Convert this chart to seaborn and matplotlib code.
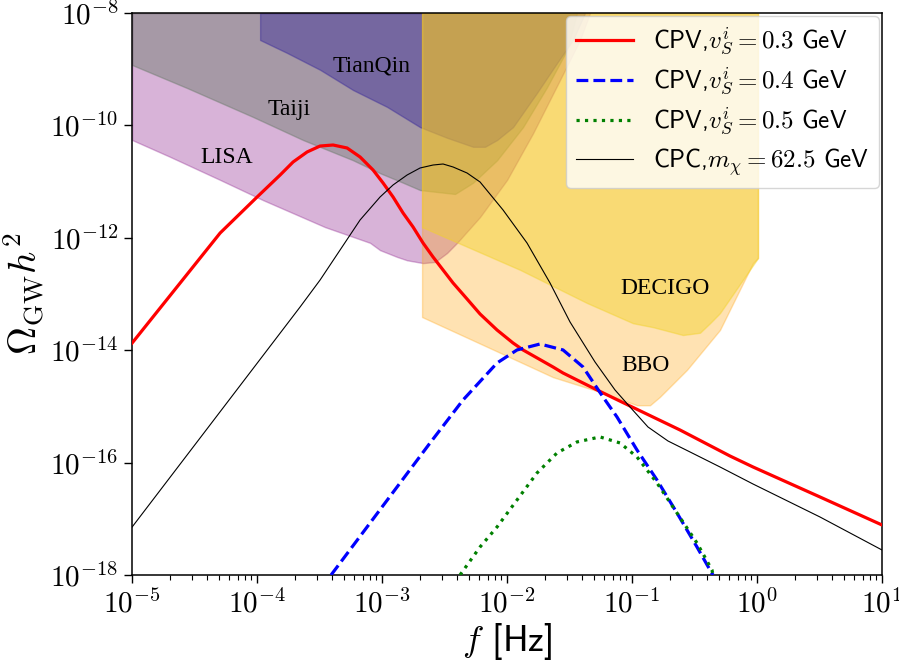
import numpy as np
import pandas as pd
import matplotlib
matplotlib.use("Agg")
import matplotlib.pyplot as plt
import seaborn as sns
from matplotlib.ticker import FixedLocator, FuncFormatter, LogLocator, NullLocator, NullFormatter

# ---------------------------------------------------------------------------
# Gravitational-wave spectra, given as log10(f / Hz) and log10(Omega_GW h^2)
# ---------------------------------------------------------------------------
cpv03_logf = [-5.0, -4.296, -4.0, -3.816, -3.712, -3.6, -3.496, -3.392, -3.28, -3.176,
              -3.072, -2.992, -2.912, -2.832, -2.752, -2.672, -2.592, -2.512, -2.432,
              -2.32, -2.216, -2.08, -1.952, -1.872, -1.632, -1.552, -1.28, -1.016,
              -0.616, -0.216, -0.032, 0.504, 1.0]
cpv03_logo = [-13.872, -11.915, -11.274, -10.883, -10.651, -10.473, -10.367, -10.349, -10.402,
              -10.562, -10.794, -11.025, -11.274, -11.559, -11.808, -12.093, -12.342, -12.573,
              -12.804, -13.089, -13.356, -13.641, -13.872, -13.996, -14.299, -14.406, -14.708,
              -14.993, -15.420, -15.883, -16.078, -16.612, -17.110]

cpv04_logf = [-3.408, -3.36, -2.616, -2.352, -2.08, -1.92, -1.736, -1.552, -1.392, -1.232,
              -1.12, -0.96, -0.8, -0.64, -0.48, -0.376, -0.352]
cpv04_logo = [-18.0, -17.858, -15.651, -14.886, -14.228, -13.996, -13.890, -13.996, -14.299,
              -14.833, -15.189, -15.776, -16.310, -16.897, -17.502, -17.911, -18.0]

cpv05_logf = [-2.376, -2.216, -2.08, -1.92, -1.76, -1.6, -1.44, -1.256, -1.096, -0.96,
              -0.8, -0.64, -0.48, -0.36, -0.352]
cpv05_logo = [-18.0, -17.502, -17.146, -16.665, -16.185, -15.829, -15.633, -15.544, -15.651,
              -15.900, -16.363, -16.897, -17.431, -17.911, -18.0]

cpc_logf = [-5.0, -3.656, -3.496, -3.336, -3.176, -3.016, -2.912, -2.8, -2.696, -2.592,
            -2.512, -2.432, -2.32, -2.216, -2.032, -1.84, -1.656, -1.496, -1.296, -1.136,
            -1.016, -0.872, -0.712, -0.536, -0.296, -0.032, 0.504, 1.0]
cpc_logo = [-17.146, -13.231, -12.751, -12.217, -11.683, -11.274, -11.060, -10.883, -10.758,
            -10.705, -10.687, -10.740, -10.847, -11.007, -11.505, -12.093, -12.804, -13.498,
            -14.210, -14.708, -15.011, -15.367, -15.616, -15.811, -16.078, -16.381, -16.968,
            -17.555]

# ---------------------------------------------------------------------------
# Detector sensitivity curves (lower edges of the shaded regions)
# ---------------------------------------------------------------------------
lisa_logf = [-5.0, -4.696, -4.296, -3.952, -3.456, -3.096, -3.016, -2.88, -2.8, -2.672,
             -2.576, -2.48, -2.4, -2.216, -2.0, -1.792, -1.576, -1.416, -1.336]
lisa_logo = [-10.26, -10.56, -10.97, -11.33, -11.81, -12.09, -12.22, -12.34, -12.40, -12.45,
             -12.43, -12.27, -12.09, -11.63, -10.97, -10.14, -9.19, -8.48, -8.0]

taiji_logf = [-5.0, -4.56, -4.032, -3.632, -3.232, -3.016, -2.832, -2.696, -2.536, -2.416,
              -2.272, -2.08, -1.872, -1.68, -1.52, -1.44]
taiji_logo = [-8.925, -9.335, -9.85, -10.26, -10.62, -10.85, -11.02, -11.15, -11.19, -11.22,
              -11.02, -10.62, -10.03, -9.32, -8.66, -8.0]

tianqin_logf = [-3.976, -3.76, -3.496, -3.232, -2.96, -2.696, -2.48, -2.272, -2.176, -2.08,
                -1.952, -1.76, -1.6, -1.472, -1.376]
tianqin_logo = [-8.48, -8.71, -9.01, -9.37, -9.67, -10.03, -10.22, -10.38, -10.38, -10.26,
                -10.03, -9.42, -8.89, -8.48, -8.0]

decigo_logf = [-2.68, -1.896, -1.36, -0.992, -0.832, -0.592, -0.456, -0.376, -0.296, 0.008]
decigo_logo = [-11.81, -12.57, -13.16, -13.52, -13.59, -13.73, -13.69, -13.52, -13.34, -12.36]

bbo_logf = [-2.68, -2.16, -1.632, -1.232, -0.96, -0.856, -0.776, -0.56, -0.296, -0.032, 0.008]
bbo_logo = [-13.41, -13.94, -14.48, -14.76, -14.98, -14.98, -14.83, -14.35, -13.64, -12.45, -12.36]

# Detector names and where they are written (log10 f, log10 Omega)
detector_names = ["LISA", "Taiji", "TianQin", "DECIGO", "BBO"]
detector_label_logf = [-4.24, -3.744, -3.088, -0.736, -0.888]
detector_label_logo = [-10.58, -9.71, -8.94, -12.91, -14.28]

# Legend entries
curve_labels = [r"CPV,$v_S^i = 0.3$ GeV", r"CPV,$v_S^i = 0.4$ GeV",
                r"CPV,$v_S^i = 0.5$ GeV", r"CPC,$m_\chi = 62.5$ GeV"]

# Axis ranges and ticks
x_lim = (1e-5, 1e1)
y_lim = (1e-18, 1e-8)
x_tick_exp = [-5, -4, -3, -2, -1, 0, 1]
y_tick_exp = [-18, -16, -14, -12, -10, -8]

# ---------------------------------------------------------------------------
plt.rcParams["mathtext.fontset"] = "cm"
plt.rcParams["font.family"] = ["cmss10", "DejaVu Sans"]
plt.rcParams["axes.unicode_minus"] = False

fig = plt.figure(figsize=(8.99, 6.67), dpi=100)
ax = fig.add_axes([0.147, 0.138, 0.834, 0.8425])
ax.set_xscale("log")
ax.set_yscale("log")

ceiling = y_lim[1]

def shade(logf, logo, color, alpha):
    f = 10.0 ** np.asarray(logf)
    o = 10.0 ** np.asarray(logo)
    ax.fill_between(f, o, ceiling, color=color, alpha=alpha, lw=1.0, zorder=1)

shade(lisa_logf, lisa_logo, "#8a1a8a", 0.33)
shade(taiji_logf, taiji_logo, "#6a7a6a", 0.45)
shade(tianqin_logf, tianqin_logo, "#3a2a9a", 0.45)
shade(bbo_logf, bbo_logo, "#ffa510", 0.32)
shade(decigo_logf, decigo_logo, "#f2d22a", 0.45)

serif = ["Liberation Serif", "DejaVu Serif"]
for name, lf, lo in zip(detector_names, detector_label_logf, detector_label_logo):
    ax.text(10 ** lf, 10 ** lo, name, ha="center", va="center",
            fontsize=17, family=serif, color="black", zorder=3)

def curve(logf, logo):
    return pd.DataFrame({"f": 10.0 ** np.asarray(logf), "omega": 10.0 ** np.asarray(logo)})

sns.lineplot(data=curve(cpv03_logf, cpv03_logo), x="f", y="omega", ax=ax, color="red",
             lw=2.3, linestyle="-", label=curve_labels[0], estimator=None, sort=False, zorder=4)
sns.lineplot(data=curve(cpv04_logf, cpv04_logo), x="f", y="omega", ax=ax, color="blue",
             lw=2.3, linestyle="--", label=curve_labels[1], estimator=None, sort=False, zorder=4)
sns.lineplot(data=curve(cpv05_logf, cpv05_logo), x="f", y="omega", ax=ax, color="green",
             lw=2.3, linestyle=":", label=curve_labels[2], estimator=None, sort=False, zorder=4)
sns.lineplot(data=curve(cpc_logf, cpc_logo), x="f", y="omega", ax=ax, color="black",
             lw=0.8, linestyle="-", label=curve_labels[3], estimator=None, sort=False, zorder=4)

ax.set_xlim(*x_lim)
ax.set_ylim(*y_lim)

ax.xaxis.set_major_locator(FixedLocator([10.0 ** e for e in x_tick_exp]))
ax.xaxis.set_minor_locator(LogLocator(base=10, subs=np.arange(2, 10), numticks=100))
ax.xaxis.set_minor_formatter(NullFormatter())
ax.yaxis.set_major_locator(FixedLocator([10.0 ** e for e in y_tick_exp]))
ax.yaxis.set_minor_locator(NullLocator())

exp_fmt = FuncFormatter(lambda v, pos: r"$10^{%d}$" % int(round(np.log10(v))))
ax.xaxis.set_major_formatter(exp_fmt)
ax.yaxis.set_major_formatter(exp_fmt)

ax.tick_params(axis="both", which="major", direction="out", length=6, width=1.0,
               labelsize=21, pad=4)
ax.tick_params(axis="x", which="minor", direction="out", length=3.5, width=0.8)
for s in ax.spines.values():
    s.set_linewidth(1.1)

ax.set_xlabel(r"$f$ [Hz]", fontsize=26, labelpad=2)
ax.set_ylabel(r"$\Omega_{\rm GW}h^2$", fontsize=28, labelpad=2)

ax.legend(loc="upper right", bbox_to_anchor=(1.0, 1.0), borderaxespad=0.1,
          fontsize=18, handlelength=2.3, handletextpad=0.8, labelspacing=0.35,
          framealpha=0.8)

fig.savefig("out.png", dpi=100)
